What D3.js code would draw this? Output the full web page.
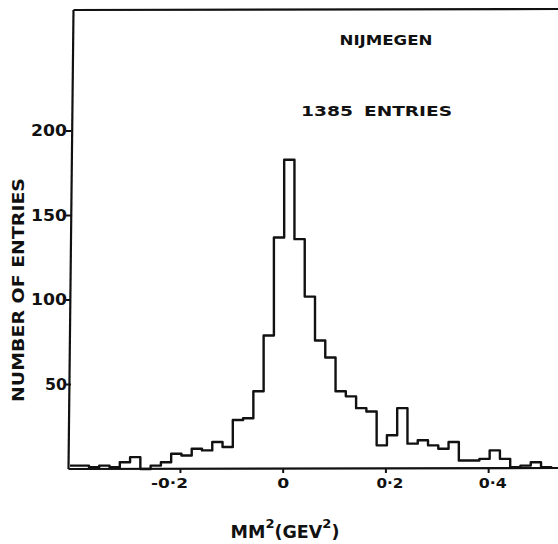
<!DOCTYPE html>
<html>
<head>
<meta charset="utf-8">
<script src="https://cdn.jsdelivr.net/npm/d3@7"></script>
<style>
  html, body { margin: 0; padding: 0; background: #fff; }
  svg { display: block; }
  text { font-family: "DejaVu Sans", sans-serif; font-weight: bold; fill: #111; }
</style>
</head>
<body>
<div id="chart"></div>
<script>
// lower edge of each MM^2 bin (GeV^2), bins 0.02 wide
const binLow = [-0.42, -0.40, -0.38, -0.36, -0.34, -0.32, -0.30, -0.28, -0.26, -0.24,
  -0.22, -0.20, -0.18, -0.16, -0.14, -0.12, -0.10, -0.08, -0.06, -0.04,
  -0.02, 0.00, 0.02, 0.04, 0.06, 0.08, 0.10, 0.12, 0.14, 0.16,
  0.18, 0.20, 0.22, 0.24, 0.26, 0.28, 0.30, 0.32, 0.34, 0.36,
  0.38, 0.40, 0.42, 0.44, 0.46, 0.48, 0.50];
const counts = [2, 2, 1, 2, 1, 4, 7, 0, 2, 4,
  9, 8, 12, 11, 16, 13, 29, 30, 46, 79,
  137, 183, 136, 102, 76, 66, 46, 43, 36, 34,
  14, 20, 36, 15, 17, 14, 12, 16, 5, 5,
  6, 11, 6, 1, 2, 4, 1];
const binWidth = 0.02;

const xTicks = [-0.2, 0, 0.2, 0.4];
const xTickLabels = ['-0·2', '0', '0·2', '0·4'];
const yTicks = [50, 100, 150, 200];
const yTickLabels = ['50', '100', '150', '200'];

let width = 558, height = 544;
let plotLeft = 70, plotTop = 10, plotBottom = 469;

let svg = d3.select('#chart').append('svg').attr('width', width).attr('height', height);

let x = d3.scaleLinear().domain([-0.415, 0.535]).range([plotLeft, width]);
let y = d3.scaleLinear().domain([0, 271.6]).range([plotBottom, plotTop]);

svg.append('clipPath').attr('id', 'plot')
  .append('rect').attr('x', plotLeft).attr('y', 0).attr('width', width - plotLeft).attr('height', height);

// histogram outline
let pts = binLow.map((b, i) => [b, counts[i]]);
let lastEdge = binLow[binLow.length - 1] + binWidth;
pts.push([lastEdge, counts[counts.length - 1]]);
pts.push([lastEdge, 0]);

let step = d3.line().curve(d3.curveStepAfter).x(d => x(d[0]) + 1).y(d => y(d[1]));
svg.append('path').datum(pts)
  .attr('d', step)
  .attr('clip-path', 'url(#plot)')
  .attr('fill', 'none').attr('stroke', '#111').attr('stroke-width', 2.4)
  .attr('stroke-linejoin', 'round');

// frame: left (slightly slanted, as drawn), bottom, top
let frame = svg.append('g').attr('stroke', '#111').attr('stroke-width', 2.2).attr('fill', 'none');
frame.append('line').attr('x1', plotLeft + 3.5).attr('y1', plotTop).attr('x2', plotLeft - 1.5).attr('y2', plotBottom);
frame.append('line').attr('x1', plotLeft - 1.5).attr('y1', plotBottom).attr('x2', width).attr('y2', plotBottom - 1);
frame.append('line').attr('x1', plotLeft + 3.5).attr('y1', plotTop).attr('x2', width).attr('y2', plotTop - 1);

// y ticks
let yt = svg.append('g');
yt.selectAll('line').data(yTicks).enter().append('line')
  .attr('x1', plotLeft - 4).attr('x2', plotLeft + 1)
  .attr('y1', d => y(d)).attr('y2', d => y(d))
  .attr('stroke', '#111').attr('stroke-width', 2);
yt.selectAll('text').data(yTicks).enter().append('text')
  .attr('x', plotLeft - 3).attr('y', d => y(d) + 5)
  .attr('text-anchor', 'end').attr('font-size', '15px')
  .attr('textLength', (d, i) => yTickLabels[i].length === 2 ? 22 : 36)
  .attr('lengthAdjust', 'spacingAndGlyphs')
  .text((d, i) => yTickLabels[i]);

// x ticks
let xt = svg.append('g');
xt.selectAll('line').data(xTicks).enter().append('line')
  .attr('x1', d => x(d)).attr('x2', d => x(d))
  .attr('y1', plotBottom).attr('y2', plotBottom + 4)
  .attr('stroke', '#111').attr('stroke-width', 2);
xt.selectAll('text').data(xTicks).enter().append('text')
  .attr('x', (d, i) => x(d) + (i === 0 ? -11 : i === 1 ? 0 : 4))
  .attr('y', 488)
  .attr('text-anchor', 'middle').attr('font-size', '14px')
  .attr('textLength', (d, i) => [37, 12, 27, 28][i])
  .attr('lengthAdjust', 'spacingAndGlyphs')
  .text((d, i) => xTickLabels[i]);

// axis titles
let xl = svg.append('text').attr('x', 285).attr('y', 538)
  .attr('text-anchor', 'middle').attr('font-size', '17.5px');
xl.append('tspan').text('MM');
xl.append('tspan').attr('dy', -10).attr('font-size', '13px').text('2');
xl.append('tspan').attr('dy', 10).text('(GEV');
xl.append('tspan').attr('dy', -10).attr('font-size', '13px').text('2');
xl.append('tspan').attr('dy', 10).text(')');

svg.append('text')
  .attr('transform', 'translate(24,290) rotate(-90)')
  .attr('text-anchor', 'middle').attr('font-size', '15px')
  .attr('textLength', 224).attr('lengthAdjust', 'spacingAndGlyphs')
  .text('NUMBER OF ENTRIES');

// annotations
svg.append('text').attr('x', 386).attr('y', 45)
  .attr('text-anchor', 'middle').attr('font-size', '14px')
  .attr('textLength', 93).attr('lengthAdjust', 'spacingAndGlyphs')
  .text('NIJMEGEN');
svg.append('text').attr('x', 301).attr('y', 116)
  .attr('font-size', '14px')
  .attr('textLength', 52).attr('lengthAdjust', 'spacingAndGlyphs')
  .text('1385');
svg.append('text').attr('x', 364).attr('y', 116)
  .attr('font-size', '14px')
  .attr('textLength', 88).attr('lengthAdjust', 'spacingAndGlyphs')
  .text('ENTRIES');
</script>
</body>
</html>
